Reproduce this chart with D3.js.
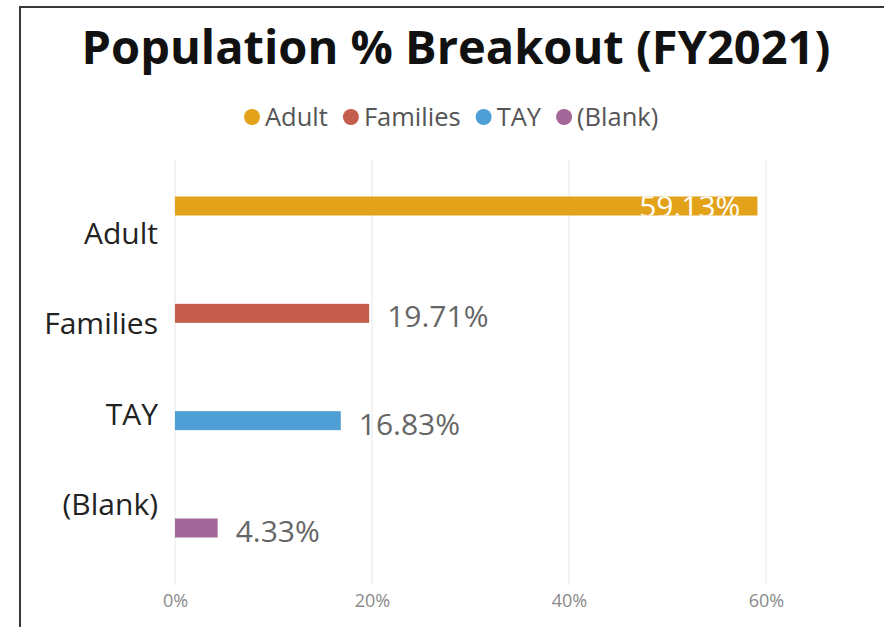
<!DOCTYPE html>
<html><head><meta charset="utf-8">
<script src="https://cdn.jsdelivr.net/npm/d3@7"></script>
<style>html,body{margin:0;padding:0;background:#fff;}svg{display:block;}</style>
</head><body>
<svg id="c" width="884" height="627"></svg>
<script>
const categories = ["Adult", "Families", "TAY", "(Blank)"];
const values = [59.13, 19.71, 16.83, 4.33];
const colors = ["#E2A21A", "#C55D4C", "#4D9FD5", "#A4679A"];
const xTicks = [0, 20, 40, 60];
const title = "Population % Breakout (FY2021)";

const svg = d3.select("#c");
const font = "'Open Sans', sans-serif";

// frame
svg.append("path").attr("d", "M20,627 V7 H884").attr("fill","none").attr("stroke","#3a3a3a").attr("stroke-width",2);

svg.append("text").attr("x", 456).attr("y", 64).attr("text-anchor","middle")
  .attr("font-family", font).attr("font-weight", 700).attr("font-size", 47).attr("fill","#111")
  .text(title);

// legend: flowing layout
const lg = svg.append("g").attr("font-family", font).attr("font-size", 25.5).attr("fill", "#555");
let lx = 252;
categories.forEach((c, i) => {
  lg.append("circle").attr("cx", lx).attr("cy", 117).attr("r", 8).attr("fill", colors[i]);
  const t = lg.append("text").attr("x", lx + 13).attr("y", 126).text(c);
  const w = t.node().getComputedTextLength();
  lx = lx + 13 + w + 23;
});

const x = d3.scaleLinear().domain([0, 60]).range([175, 766]);
const yLab = d3.scalePoint().domain(categories).range([234, 505]);
const yBar = d3.scalePoint().domain(categories).range([206, 528]);
const barH = 19;

// gridlines
svg.append("g").selectAll("line").data(xTicks).join("line")
  .attr("x1", d => x(d)).attr("x2", d => x(d)).attr("y1", 160).attr("y2", 585)
  .attr("stroke", "#e6e6e6").attr("stroke-width", 1);

// x axis
const xAxis = svg.append("g").attr("transform", "translate(0,585)")
  .call(d3.axisBottom(x).tickValues(xTicks).tickFormat(d => d + "%").tickSize(0).tickPadding(9));
xAxis.select(".domain").remove();
xAxis.selectAll("text").attr("font-family", font).attr("font-size", 18).attr("fill", "#8a8a8a");

// y labels
const yAxis = svg.append("g").attr("transform", "translate(158,0)")
  .call(d3.axisLeft(yLab).tickSize(0).tickPadding(0));
yAxis.select(".domain").remove();
yAxis.selectAll("text").attr("font-family", font).attr("font-size", 30).attr("fill", "#222");

// bars
svg.append("g").selectAll("rect").data(values).join("rect")
  .attr("x", x(0)).attr("y", (d, i) => yBar(categories[i]) - barH / 2)
  .attr("width", d => x(d) - x(0)).attr("height", barH)
  .attr("fill", (d, i) => colors[i]);

// clip for inside label
const defs = svg.append("defs");
values.forEach((v, i) => {
  defs.append("clipPath").attr("id", "clip" + i).append("rect")
    .attr("x", x(0)).attr("y", yBar(categories[i]) - barH / 2)
    .attr("width", x(v) - x(0)).attr("height", barH);
});

// data labels
svg.append("g").selectAll("text").data(values).join("text")
  .attr("font-family", font).attr("font-size", 30)
  .each(function(d, i) {
    const t = d3.select(this);
    const cy = yBar(categories[i]);
    if (x(d) - x(0) > 200) {
      t.attr("x", x(d) - 17).attr("y", cy + 11).attr("text-anchor", "end")
       .attr("fill", "#fff").attr("clip-path", `url(#clip${i})`);
    } else {
      t.attr("x", x(d) + 18).attr("y", cy + 14).attr("fill", "#666");
    }
  })
  .text(d => d.toFixed(2) + "%");
</script>
</body></html>
